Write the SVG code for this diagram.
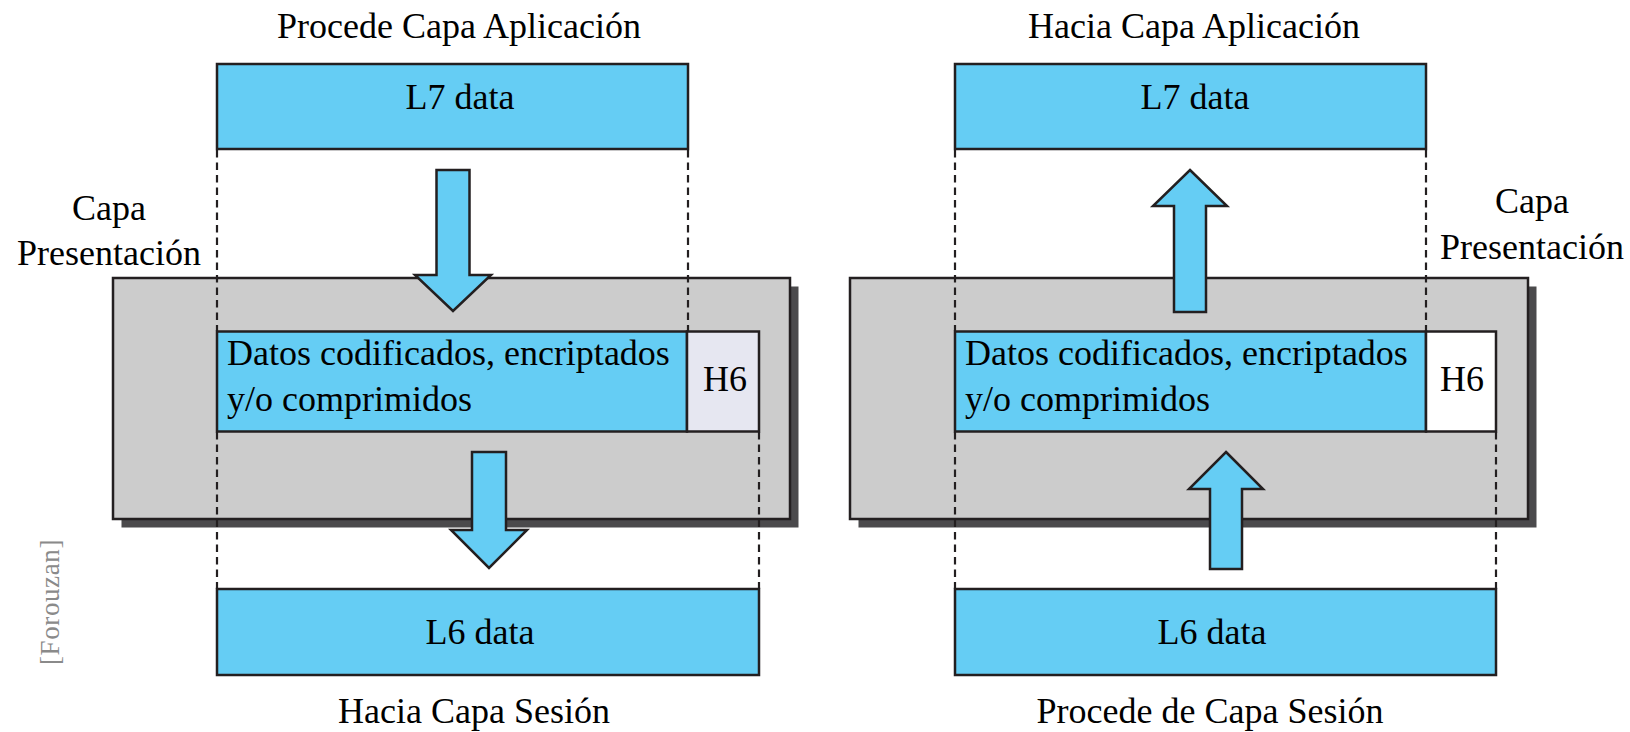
<svg xmlns="http://www.w3.org/2000/svg" width="1630" height="732" viewBox="0 0 1630 732">
<defs>
<style>
text{font-family:"Liberation Serif","Times New Roman",serif;font-size:36px;fill:#000}
.c{text-anchor:middle}
.blue{fill:#65cdf4;stroke:#231f20;stroke-width:2.5}
.gray{fill:#cccccc;stroke:#231f20;stroke-width:2.5}
.shadow{fill:#4b4a4c}
.h6a{fill:#e6e7f1;stroke:#231f20;stroke-width:2.5}
.h6b{fill:#ffffff;stroke:#231f20;stroke-width:2.5}
.dash{stroke:#231f20;stroke-width:2.2;stroke-dasharray:7.5 5;fill:none}
.arrow{fill:#65cdf4;stroke:#231f20;stroke-width:2.5;stroke-linejoin:miter}
.credit{font-size:27px;fill:#8a8a8a;letter-spacing:0.6px}
</style>
</defs>
<rect width="1630" height="732" fill="#ffffff"/>

<!-- Left panel -->
<g id="left-title"><text class="c" x="459" y="38">Procede Capa Aplicación</text></g>
<g id="left-l7"><rect class="blue" x="217" y="64" width="471" height="85"/><text class="c" x="460" y="109">L7 data</text></g>
<g id="left-layer-label"><text class="c" x="109" y="220">Capa</text><text class="c" x="109" y="265">Presentación</text></g>
<g id="left-layer">
<rect class="shadow" x="121.5" y="286.5" width="677" height="241"/>
<rect class="gray" x="113" y="278" width="677" height="241"/>
</g>
<g id="left-datos">
<rect class="blue" x="217" y="331.5" width="470" height="100"/>
<rect class="h6a" x="687" y="331.5" width="72" height="100"/>
<text x="227" y="365">Datos codificados, encriptados</text>
<text x="227" y="410.5">y/o comprimidos</text>
<text class="c" x="725" y="390.5">H6</text>
</g>
<g id="left-l6"><rect class="blue" x="217" y="589" width="542" height="86"/><text class="c" x="480" y="644">L6 data</text></g>
<g id="left-bottom"><text class="c" x="474" y="723">Hacia Capa Sesión</text></g>

<!-- Right panel -->
<g id="right-title"><text class="c" x="1194" y="38">Hacia Capa Aplicación</text></g>
<g id="right-l7"><rect class="blue" x="955" y="64" width="471" height="85"/><text class="c" x="1195" y="109">L7 data</text></g>
<g id="right-layer-label"><text class="c" x="1532" y="213">Capa</text><text class="c" x="1532" y="259">Presentación</text></g>
<g id="right-layer">
<rect class="shadow" x="858.5" y="286.5" width="678" height="241"/>
<rect class="gray" x="850" y="278" width="678" height="241"/>
</g>
<g id="right-datos">
<rect class="blue" x="955" y="331.5" width="471" height="100"/>
<rect class="h6b" x="1426" y="331.5" width="70" height="100"/>
<text x="965" y="365">Datos codificados, encriptados</text>
<text x="965" y="410.5">y/o comprimidos</text>
<text class="c" x="1462" y="390.5">H6</text>
</g>
<g id="right-l6"><rect class="blue" x="955" y="589" width="541" height="86"/><text class="c" x="1212" y="644">L6 data</text></g>
<g id="right-bottom"><text class="c" x="1210" y="723">Procede de Capa Sesión</text></g>

<g id="credit"><text class="credit c" transform="translate(59,602) rotate(-90)" x="0" y="0">[Forouzan]</text></g>

<!-- Connectors -->
<g id="connectors">
<line class="dash" x1="217" y1="150" x2="217" y2="331"/>
<line class="dash" x1="688" y1="150" x2="688" y2="331"/>
<line class="dash" x1="217" y1="432" x2="217" y2="589"/>
<line class="dash" x1="759" y1="432" x2="759" y2="589"/>
<line class="dash" x1="955" y1="150" x2="955" y2="331"/>
<line class="dash" x1="1426" y1="150" x2="1426" y2="331"/>
<line class="dash" x1="955" y1="432" x2="955" y2="589"/>
<line class="dash" x1="1496" y1="432" x2="1496" y2="589"/>
<path class="arrow" d="M436.5,170 H469.5 V275 H491 L453,311 L415,275 H436.5 Z"/>
<path class="arrow" d="M472,452 H506 V530 H527 L489,568 L451,530 H472 Z"/>
<path class="arrow" d="M1190,170 L1227,206 H1206 V312 H1174 V206 H1153 Z"/>
<path class="arrow" d="M1226,452 L1263,489 H1242 V569 H1210 V489 H1189 Z"/>
</g>
</svg>
